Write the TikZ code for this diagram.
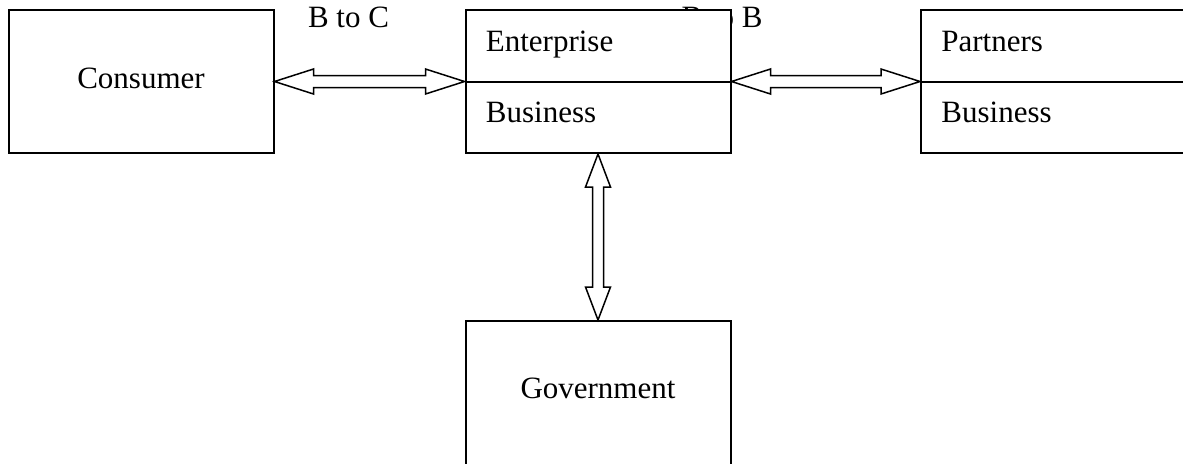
\documentclass[tikz,border=0pt]{standalone}
\usepackage{fontspec}
\setmainfont{Liberation Serif}
\usetikzlibrary{calc}

\tikzset{
  box/.style={draw, fill=white, line width=1pt, minimum width=132.5pt, minimum height=71.5pt, inner sep=0pt},
  lbl/.style={inner sep=0pt, font=\fontsize{15.5}{18}\selectfont},
  fatarrow/.style={draw, fill=white, line width=0.75pt},
}

\begin{document}
\begin{tikzpicture}[x=0.5pt,y=-0.5pt]
\useasboundingbox (0,0) rectangle (1183,463);
\clip (0,0) rectangle (1183,463);

% labels over the arrows
\node[lbl, anchor=base] (btoc) at (348.5,27) {B to C};
\node[lbl, anchor=base] (btob) at (722,27) {B to B};

% boxes
\node[box] (cons) at (141,81.5) {};
\node[box] (ent) at (598,81.5) {};
\node[box] (part) at (1053.5,81.5) {};
\node[box, minimum height=74pt] (gov) at (598,395) {};

\node[lbl, anchor=base] (constxt) at ($(cons.center)+(0,6.5)$) {Consumer};
\node[lbl, anchor=base] (govtxt) at ($(gov.north)+(0,78)$) {Government};

% split boxes
\draw[line width=1pt] (ent.west) -- (ent.east);
\draw[line width=1pt] (part.west) -- (part.east);
\node[lbl, anchor=base west] (entup) at ($(ent.north west)+(21,42)$) {Enterprise};
\node[lbl, anchor=base west] (entlow) at ($(ent.west)+(21,41)$) {Business};
\node[lbl, anchor=base west] (partup) at ($(part.north west)+(21,42)$) {Partners};
\node[lbl, anchor=base west] (partlow) at ($(part.west)+(21,41)$) {Business};

% B to C
\draw[fatarrow] (cons.east) -- ++(39,-12.5) -- ++(0,6.5) -- ($(ent.west)+(-39,-6)$) -- ++(0,-6.5)
    -- (ent.west) -- ++(-39,12.5) -- ++(0,-6.5) -- ($(cons.east)+(39,6)$) -- ++(0,6.5) -- cycle;

% B to B
\draw[fatarrow] (ent.east) -- ++(39,-12.5) -- ++(0,6.5) -- ($(part.west)+(-39,-6)$) -- ++(0,-6.5)
    -- (part.west) -- ++(-39,12.5) -- ++(0,-6.5) -- ($(ent.east)+(39,6)$) -- ++(0,6.5) -- cycle;

% government
\draw[fatarrow] (ent.south) -- ++(12.5,33) -- ++(-7,0) -- ($(gov.north)+(5.5,-33)$) -- ++(7,0)
    -- (gov.north) -- ++(-12.5,-33) -- ++(7,0) -- ($(ent.south)+(-5.5,33)$) -- ++(-7,0) -- cycle;
\end{tikzpicture}
\end{document}
